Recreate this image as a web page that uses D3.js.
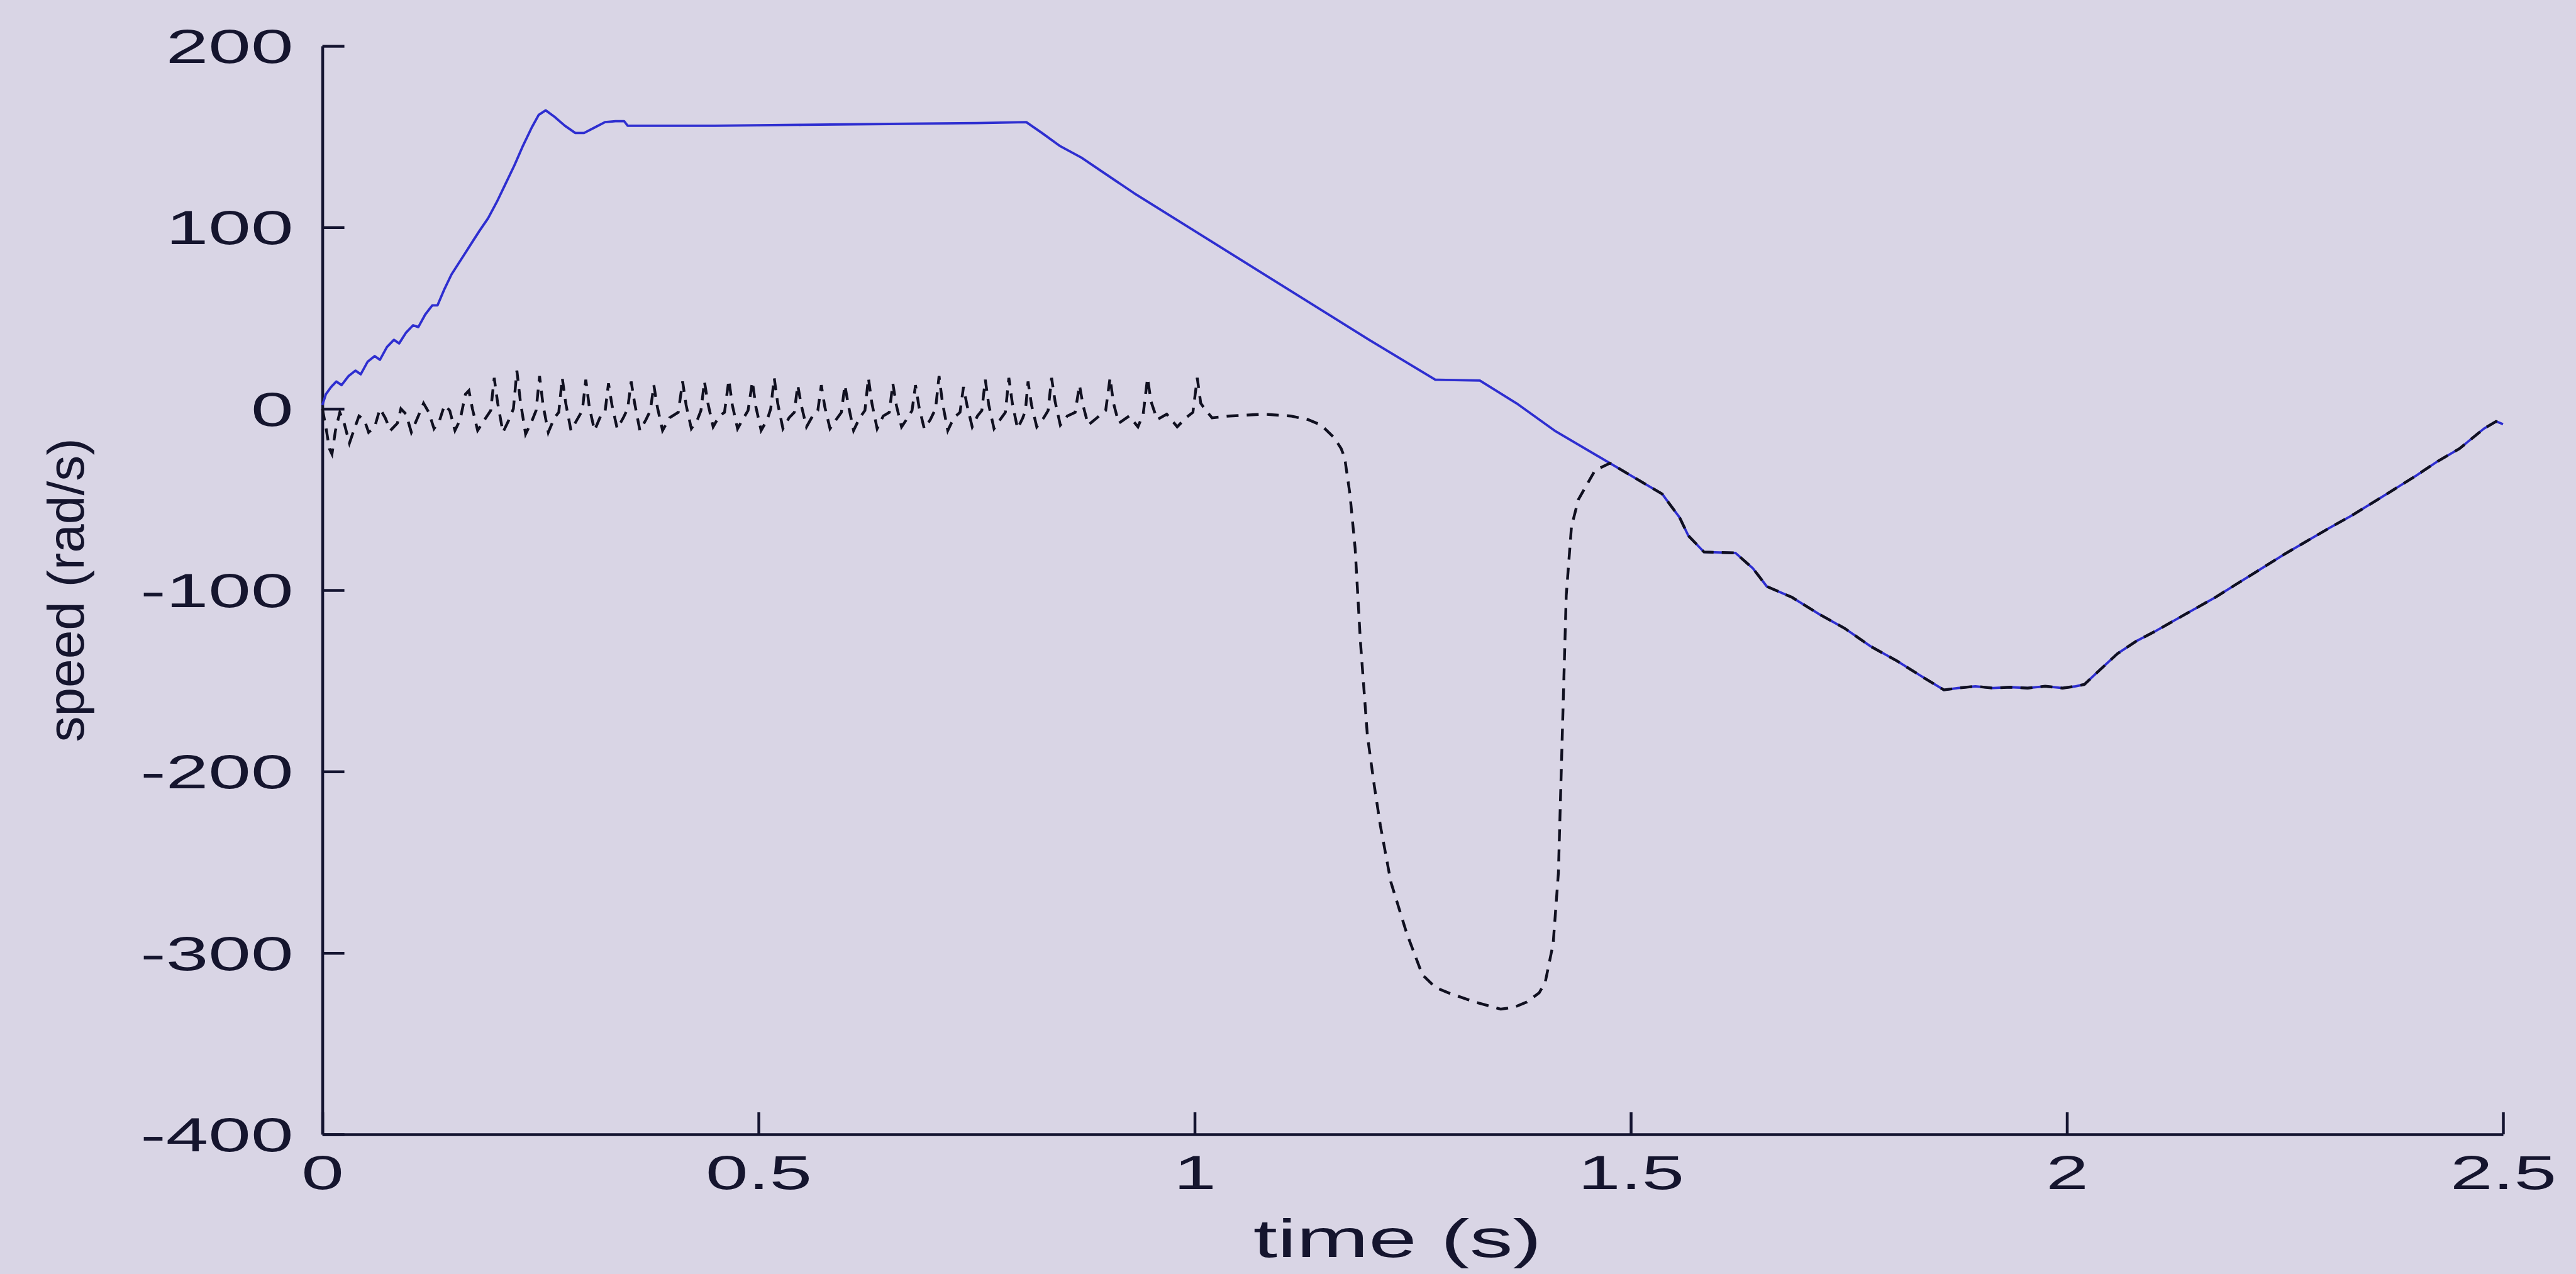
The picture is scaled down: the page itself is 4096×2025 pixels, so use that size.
<!DOCTYPE html>
<html>
<head>
<meta charset="utf-8">
<script src="https://cdn.jsdelivr.net/npm/d3@7"></script>
<style>
  html, body { margin: 0; padding: 0; background: #d9d5e5; }
  svg { display: block; }
  text { font-family: "Liberation Sans", Arial, Helvetica, sans-serif; fill: #15152e; }
</style>
</head>
<body>
<svg id="chart" width="4096" height="2025"></svg>
<script>
// Axis ticks
const xTicks = [0, 0.5, 1, 1.5, 2, 2.5];
const xTickLabels = ["0", "0.5", "1", "1.5", "2", "2.5"];
const yTicks = [-400, -300, -200, -100, 0, 100, 200];
const yTickLabels = ["-400", "-300", "-200", "-100", "0", "100", "200"];

// Solid (blue) speed trace: [time s, speed rad/s]
const speedSolid = [
  [0.000, 2], [0.004, 8], [0.010, 12], [0.016, 15], [0.022, 13], [0.030, 18],
  [0.038, 21], [0.044, 19], [0.052, 26], [0.060, 29], [0.066, 27], [0.074, 34],
  [0.082, 38], [0.088, 36], [0.096, 42], [0.104, 46], [0.110, 45], [0.118, 52],
  [0.126, 57], [0.132, 57], [0.140, 66], [0.148, 74], [0.156, 80], [0.164, 86],
  [0.172, 92], [0.180, 98], [0.190, 105], [0.200, 114], [0.210, 124], [0.220, 134],
  [0.230, 145], [0.240, 155], [0.248, 162], [0.256, 164.5], [0.266, 161], [0.278, 156],
  [0.290, 152], [0.300, 152], [0.312, 155], [0.324, 158], [0.336, 158.5], [0.346, 158.5],
  [0.350, 156], [0.450, 156], [0.550, 156.5], [0.650, 157], [0.750, 157.5], [0.807, 158],
  [0.825, 152], [0.845, 145], [0.870, 138.5], [0.890, 132], [0.930, 119], [1.000, 98],
  [1.100, 68], [1.200, 38], [1.276, 16], [1.327, 15.5], [1.369, 3], [1.414, -12.5],
  [1.476, -30], [1.536, -47], [1.556, -60], [1.566, -70], [1.584, -79], [1.620, -79.5],
  [1.640, -88], [1.656, -98], [1.685, -104], [1.715, -113], [1.745, -121], [1.775, -131],
  [1.805, -139], [1.835, -148], [1.859, -155], [1.875, -154], [1.895, -153], [1.915, -154],
  [1.935, -153.5], [1.955, -154], [1.975, -153], [1.995, -154], [2.010, -153], [2.020, -152],
  [2.040, -143], [2.058, -135], [2.080, -128], [2.100, -123], [2.135, -113.5], [2.170, -104],
  [2.200, -95], [2.250, -80], [2.300, -66], [2.326, -59], [2.360, -49], [2.400, -37],
  [2.425, -29], [2.450, -22], [2.478, -11], [2.492, -7], [2.500, -8.5]
];

// Dashed speed trace: start-up ripple, excursion, then it rejoins the solid trace
const speedDashedStart = [
  [0.000, 0], [0.004, -10], [0.008, -22], [0.011, -25], [0.015, -12], [0.020, -2],
  [0.025, -8], [0.031, -19], [0.036, -12], [0.042, -4], [0.048, -6], [0.053, -13],
  [0.060, -10], [0.066, 0], [0.072, -5], [0.078, -12], [0.086, -8], [0.090, 0],
  [0.096, -3], [0.102, -13], [0.110, -4], [0.116, 3], [0.122, -2], [0.128, -11],
  [0.134, -7], [0.140, 2], [0.146, -1], [0.152, -12], [0.158, -6], [0.164, 8],
  [0.168, 10], [0.172, 0], [0.178, -12], [0.186, -6],
  [0.193, -1], [0.197, 17], [0.201, 3], [0.207, -13], [0.214, -6],
  [0.219, 0], [0.223, 21], [0.227, 4], [0.233, -14], [0.240, -7],
  [0.245, -1], [0.249, 18], [0.253, 2], [0.259, -13], [0.266, -5],
  [0.271, -2], [0.275, 17], [0.279, 3], [0.285, -12], [0.292, -6],
  [0.298, -1], [0.302, 16], [0.306, 1], [0.312, -12], [0.319, -4],
  [0.324, -2], [0.328, 14], [0.332, 2], [0.338, -11], [0.345, -5],
  [0.350, 0], [0.354, 15], [0.358, 3], [0.364, -12], [0.371, -6],
  [0.376, -1], [0.380, 13], [0.384, 1], [0.390, -12], [0.398, -5],
  [0.408, -2], [0.413, 15], [0.417, 2], [0.423, -11], [0.430, -6],
  [0.434, -1], [0.438, 15], [0.442, 3], [0.448, -10], [0.455, -4],
  [0.461, -2], [0.466, 16], [0.470, 2], [0.476, -11], [0.483, -5],
  [0.488, -1], [0.493, 15], [0.497, 1], [0.503, -12], [0.510, -6],
  [0.514, 0], [0.518, 17], [0.522, 3], [0.528, -11], [0.535, -5],
  [0.541, -2], [0.545, 13], [0.549, 2], [0.555, -10], [0.562, -4],
  [0.568, -1], [0.572, 13], [0.576, 1], [0.582, -11], [0.589, -6],
  [0.595, -2], [0.599, 13], [0.603, 2], [0.609, -12], [0.616, -5],
  [0.622, -1], [0.626, 17], [0.630, 3], [0.636, -11], [0.643, -4],
  [0.650, -2], [0.654, 14], [0.658, 2], [0.664, -10], [0.671, -5],
  [0.676, -1], [0.680, 13], [0.684, 1], [0.690, -11], [0.697, -6],
  [0.703, 0], [0.707, 18], [0.711, 3], [0.717, -12], [0.724, -5],
  [0.731, -2], [0.735, 12], [0.739, 2], [0.745, -10], [0.751, -4],
  [0.756, -1], [0.760, 16], [0.764, 2], [0.770, -11], [0.777, -6],
  [0.783, -2], [0.787, 17], [0.791, 3], [0.797, -11], [0.803, -5],
  [0.806, -1], [0.809, 15], [0.813, 2], [0.819, -10], [0.827, -5],
  [0.832, -1], [0.836, 17], [0.840, 4], [0.846, -9], [0.854, -4],
  [0.863, -2], [0.868, 13], [0.872, 2], [0.878, -9], [0.888, -5],
  [0.898, -1], [0.903, 17], [0.907, 3], [0.913, -8], [0.925, -4], [0.935, -10],
  [0.941, -3], [0.946, 17], [0.950, 4], [0.957, -6], [0.968, -3], [0.980, -10], [0.990, -5],
  [0.998, -2], [1.003, 17], [1.007, 3], [1.013, -1], [1.020, -5]
];
const speedDashedDip = [
  [1.040, -4], [1.060, -3.5], [1.080, -3], [1.094, -3.5], [1.110, -4], [1.130, -6],
  [1.145, -9], [1.160, -16], [1.168, -22], [1.172, -27], [1.178, -47], [1.184, -77],
  [1.190, -128], [1.198, -180], [1.206, -208], [1.213, -230], [1.225, -261], [1.243, -289],
  [1.261, -312], [1.276, -319], [1.291, -322], [1.321, -327], [1.351, -331], [1.366, -330],
  [1.381, -327], [1.395, -322], [1.402, -316], [1.411, -295], [1.417, -256], [1.420, -205],
  [1.423, -154], [1.426, -103], [1.432, -65], [1.440, -50], [1.459, -34], [1.476, -30]
];
const rejoinTime = 1.476;

const svg = d3.select("#chart");
const W = 4096, H = 2025;

const x = d3.scaleLinear().domain([0, 2.5]).range([512.6, 3980]);
const y = d3.scaleLinear().domain([-400, 200]).range([1803, 73]);

const ink = "#141430";
const stretch = 1.6;   // wide tick-label lettering

// background
svg.append("rect").attr("width", W).attr("height", H).attr("fill", "#d9d5e5");

// axes: left and bottom only, ticks pointing inward
const xAxis = d3.axisBottom(x).tickValues(xTicks).tickSizeInner(-35).tickSizeOuter(0)
  .tickFormat((d, i) => xTickLabels[i]);
const yAxis = d3.axisLeft(y).tickValues(yTicks).tickSizeInner(-35).tickSizeOuter(0)
  .tickFormat((d, i) => yTickLabels[i]);

const gx = svg.append("g").attr("transform", `translate(0,${y(-400)})`).call(xAxis);
const gy = svg.append("g").attr("transform", `translate(${x(0)},0)`).call(yAxis);

[gx, gy].forEach(g => {
  g.select(".domain").attr("stroke", ink).attr("stroke-width", 4.5);
  g.selectAll(".tick line").attr("stroke", ink).attr("stroke-width", 4.5);
  g.selectAll(".tick text")
    .attr("fill", ink)
    .style("font-family", '"Liberation Sans", Arial, sans-serif')
    .style("font-size", "76px");
});

gx.selectAll(".tick text")
  .attr("x", 0).attr("y", 0).attr("dy", null)
  .attr("text-anchor", "middle")
  .attr("transform", `translate(0,87) scale(${stretch},1)`);

gy.selectAll(".tick text")
  .attr("x", 0).attr("y", 0).attr("dy", "0.35em")
  .attr("text-anchor", "end")
  .attr("transform", `translate(-46,0) scale(${stretch},1)`);

// axis titles
svg.append("text")
  .attr("text-anchor", "middle")
  .attr("transform", `translate(2222,1998) scale(${stretch},1)`)
  .style("font-size", "86px")
  .attr("fill", ink)
  .text("time (s)");

svg.append("text")
  .attr("text-anchor", "middle")
  .attr("transform", `translate(133,${y(-100)}) rotate(-90)`)
  .style("font-size", "82px")
  .attr("fill", ink)
  .text("speed (rad/s)");

// traces
const line = d3.line().x(d => x(d[0])).y(d => y(d[1]));

svg.append("path")
  .datum(speedSolid)
  .attr("fill", "none")
  .attr("stroke", "#2e2ed0")
  .attr("stroke-width", 3.8)
  .attr("stroke-linejoin", "round")
  .attr("d", line);

const speedDashed = speedDashedStart
  .concat(speedDashedDip)
  .concat(speedSolid.filter(d => d[0] > rejoinTime));

svg.append("path")
  .datum(speedDashed)
  .attr("fill", "none")
  .attr("stroke", "#101020")
  .attr("stroke-width", 4.4)
  .attr("stroke-dasharray", "19 13")
  .attr("d", line);
</script>
</body>
</html>
